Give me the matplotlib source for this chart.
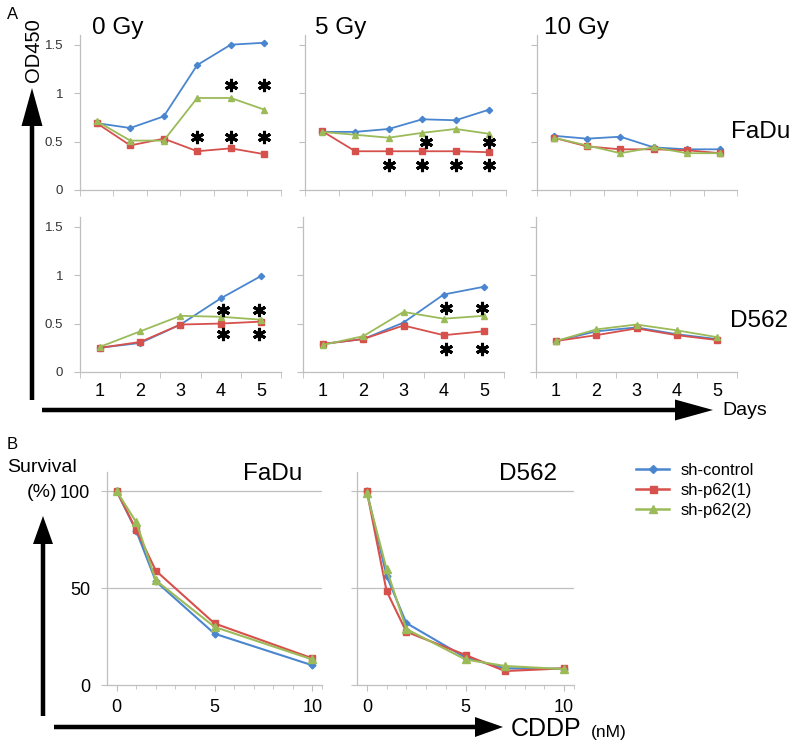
import matplotlib
matplotlib.use("Agg")
import matplotlib.pyplot as plt
from matplotlib.patches import FancyArrow
from matplotlib.lines import Line2D

plt.rcParams['font.family'] = ['Liberation Sans', 'DejaVu Sans']

W, H = 800, 748

# ---------------- data: panel A (OD450 growth curves) ----------------
series_names = ["sh-control", "sh-p62(1)", "sh-p62(2)"]
colors = ["#4A86CF", "#D6504C", "#9BBB59"]
markers = ["D", "s", "^"]
msizes = [3.2, 4.2, 4.6]

doses = ["0 Gy", "5 Gy", "10 Gy"]
cells = ["FaDu", "D562"]

days_top = [1, 2, 3, 4, 5, 6]
days_bottom = [1, 2, 3, 4, 5]
day_labels = ["1", "2", "3", "4", "5"]

# FaDu (top row), 6 time points
fadu_0gy_ctrl = [0.69, 0.64, 0.76, 1.29, 1.50, 1.52]
fadu_0gy_p62_1 = [0.69, 0.46, 0.53, 0.40, 0.43, 0.37]
fadu_0gy_p62_2 = [0.71, 0.51, 0.51, 0.95, 0.95, 0.83]
fadu_5gy_ctrl = [0.60, 0.60, 0.63, 0.73, 0.72, 0.83]
fadu_5gy_p62_1 = [0.61, 0.40, 0.40, 0.40, 0.40, 0.39]
fadu_5gy_p62_2 = [0.60, 0.57, 0.54, 0.59, 0.63, 0.58]
fadu_10gy_ctrl = [0.56, 0.53, 0.55, 0.44, 0.42, 0.42]
fadu_10gy_p62_1 = [0.54, 0.45, 0.42, 0.42, 0.41, 0.38]
fadu_10gy_p62_2 = [0.54, 0.46, 0.38, 0.44, 0.38, 0.38]

# D562 (bottom row), 5 time points
d562_0gy_ctrl = [0.25, 0.30, 0.49, 0.76, 0.99]
d562_0gy_p62_1 = [0.25, 0.31, 0.49, 0.50, 0.52]
d562_0gy_p62_2 = [0.26, 0.42, 0.58, 0.57, 0.54]
d562_5gy_ctrl = [0.29, 0.34, 0.51, 0.80, 0.88]
d562_5gy_p62_1 = [0.29, 0.34, 0.48, 0.38, 0.42]
d562_5gy_p62_2 = [0.28, 0.37, 0.62, 0.55, 0.58]
d562_10gy_ctrl = [0.32, 0.42, 0.46, 0.39, 0.34]
d562_10gy_p62_1 = [0.32, 0.38, 0.45, 0.38, 0.33]
d562_10gy_p62_2 = [0.32, 0.44, 0.49, 0.43, 0.36]

# significance stars: (time point positions, y level)
stars_fadu_0gy = [([5, 6], 1.08), ([4, 5, 6], 0.55)]
stars_fadu_5gy = [([4.1, 6], 0.50), ([3, 4, 5, 6], 0.26)]
stars_d562_0gy = [([4.05, 4.95], 0.635), ([4.05, 4.95], 0.39)]
stars_d562_5gy = [([4.05, 4.95], 0.66), ([4.05, 4.95], 0.24)]

od_ticks = [0, 0.5, 1, 1.5]
od_ticklabels = ["0", "0.5", "1", "1.5"]

# ---------------- data: panel B (CDDP survival) ----------------
fadu_cddp = [0, 1, 2, 5, 10]
fadu_surv_ctrl = [100, 79.5, 53.5, 26.5, 10.2]
fadu_surv_p62_1 = [100, 80.0, 59.0, 31.8, 13.8]
fadu_surv_p62_2 = [100, 84.0, 54.0, 30.0, 13.2]

d562_cddp = [0, 1, 2, 5, 7, 10]
d562_surv_ctrl = [100, 56.3, 32.0, 14.2, 8.6, 8.4]
d562_surv_p62_1 = [100, 48.5, 27.5, 15.5, 7.2, 8.6]
d562_surv_p62_2 = [99, 59.8, 28.9, 13.2, 9.8, 8.2]

surv_ticks = [0, 50, 100]
cddp_ticks = [0, 5, 10]

GRAY = "#BFBFBF"

fig = plt.figure(figsize=(W / 100, H / 100), dpi=100)


def px(l, t, r, b):
    return [l / W, 1 - b / H, (r - l) / W, (b - t) / H]


# overlay axis in pixel coordinates (arrows + free text), drawn on top
ov = fig.add_axes([0, 0, 1, 1], zorder=10)
ov.set_xlim(0, W)
ov.set_ylim(H, 0)
ov.axis("off")
ov.patch.set_alpha(0)


def style_A(ax, nx, show_ylabels, show_xlabels):
    ax.patch.set_alpha(0)
    for s in ("top", "right"):
        ax.spines[s].set_visible(False)
    for s in ("left", "bottom"):
        ax.spines[s].set_color(GRAY)
        ax.spines[s].set_linewidth(0.9)
    ax.set_ylim(0, 1.6)
    ax.set_xlim(0.5, nx + 0.5)
    ax.set_yticks(od_ticks)
    if show_ylabels:
        ax.set_yticklabels(od_ticklabels)
    else:
        ax.set_yticklabels([])
    ax.tick_params(axis="y", length=4, color=GRAY, labelsize=9.5,
                   labelcolor="#333333", pad=8)
    ax.set_xticks([i + 0.5 for i in range(0, nx + 1)], minor=True)
    ax.tick_params(axis="x", which="minor", length=4, color=GRAY)
    if show_xlabels:
        ax.set_xticks(days_bottom)
        ax.set_xticklabels(day_labels)
        ax.tick_params(axis="x", which="major", length=0, labelsize=13, pad=8)
    else:
        ax.set_xticks([])


def plot_series(ax, x, ys, lw=1.3, scale=1.0):
    for y, c, m, ms in zip(ys, colors, markers, msizes):
        ax.plot(x, y, color=c, marker=m, ms=ms * scale, lw=lw,
                markeredgecolor=c, clip_on=False)


def plot_stars(ax, stars):
    for xs, yv in stars:
        ax.plot(xs, [yv] * len(xs), ls="none", marker=(6, 2, 0), ms=9.5,
                mew=2.2, color="black", clip_on=False)


top_cols = [(80, 281), (305, 506), (537, 737)]
bot_cols = [(80, 281), (303, 504), (536, 737)]

top_data = [
    ([fadu_0gy_ctrl, fadu_0gy_p62_1, fadu_0gy_p62_2], stars_fadu_0gy),
    ([fadu_5gy_ctrl, fadu_5gy_p62_1, fadu_5gy_p62_2], stars_fadu_5gy),
    ([fadu_10gy_ctrl, fadu_10gy_p62_1, fadu_10gy_p62_2], []),
]
bot_data = [
    ([d562_0gy_ctrl, d562_0gy_p62_1, d562_0gy_p62_2], stars_d562_0gy),
    ([d562_5gy_ctrl, d562_5gy_p62_1, d562_5gy_p62_2], stars_d562_5gy),
    ([d562_10gy_ctrl, d562_10gy_p62_1, d562_10gy_p62_2], []),
]

for i, ((l, r), (ys, st)) in enumerate(zip(top_cols, top_data)):
    ax = fig.add_axes(px(l, 35, r, 190))
    style_A(ax, len(days_top), i == 0, False)
    plot_series(ax, days_top, ys)
    plot_stars(ax, st)

for i, ((l, r), (ys, st)) in enumerate(zip(bot_cols, bot_data)):
    ax = fig.add_axes(px(l, 217, r, 372))
    style_A(ax, len(days_bottom), i == 0, True)
    plot_series(ax, days_bottom, ys)
    plot_stars(ax, st)

# Panel A text
ov.text(7, 14, "A", fontsize=12, va="center", ha="left")
for (x0, lab) in zip([92, 315, 544], doses):
    ov.text(x0, 28, lab, fontsize=17.5, va="center", ha="left")
ov.text(731, 132, cells[0], fontsize=17.5, va="center", ha="left")
ov.text(730, 321, cells[1], fontsize=17.5, va="center", ha="left")
ov.text(722, 410, "Days", fontsize=14, va="center", ha="left")
ov.text(33, 50, "OD450", fontsize=14.5, rotation=90, va="center", ha="center")

# big arrows (panel A)
ov.add_patch(FancyArrow(32, 400, 0, -312, width=4.5, head_width=21,
                        head_length=38, length_includes_head=True,
                        color="black", lw=0))
ov.add_patch(FancyArrow(42, 410, 671, 0, width=4.5, head_width=21,
                        head_length=38, length_includes_head=True,
                        color="black", lw=0))


# ---------------- panel B ----------------
def style_B(ax, show_ylabels):
    ax.patch.set_alpha(0)
    for s in ("top", "right"):
        ax.spines[s].set_visible(False)
    for s in ("left", "bottom"):
        ax.spines[s].set_color(GRAY)
        ax.spines[s].set_linewidth(0.9)
    ax.set_xlim(-0.5, 10.5)
    ax.set_ylim(0, 110)
    ax.set_yticks(surv_ticks)
    ax.set_yticklabels([str(t) for t in surv_ticks] if show_ylabels else [])
    ax.tick_params(axis="y", length=4, color=GRAY, labelsize=13, pad=8)
    ax.set_xticks(cddp_ticks)
    ax.set_xticklabels([str(t) for t in cddp_ticks])
    ax.set_xticks(list(range(0, 11)) + [10.5], minor=True)
    ax.tick_params(axis="x", which="major", length=4, color=GRAY,
                   labelsize=13, pad=6)
    ax.tick_params(axis="x", which="minor", length=3, color=GRAY)
    for g in (50, 100):
        ax.axhline(g, color=GRAY, lw=0.9, zorder=0)


axB1 = fig.add_axes(px(107, 472, 322, 685))
style_B(axB1, True)
plot_series(axB1, fadu_cddp, [fadu_surv_ctrl, fadu_surv_p62_1, fadu_surv_p62_2],
            lw=1.5, scale=1.1)

axB2 = fig.add_axes(px(357, 472, 574, 685))
style_B(axB2, False)
plot_series(axB2, d562_cddp, [d562_surv_ctrl, d562_surv_p62_1, d562_surv_p62_2],
            lw=1.5, scale=1.1)

ov.text(243, 474, cells[0], fontsize=17.5, va="center", ha="left")
ov.text(557, 474, cells[1], fontsize=17.5, va="center", ha="right")
ov.text(7, 444, "B", fontsize=12, va="center", ha="left")
ov.text(7, 467, "Survival", fontsize=14, va="center", ha="left")
ov.text(27, 492, "(%)", fontsize=14, va="center", ha="left")
ov.text(511, 729, "CDDP", fontsize=18, va="center", ha="left")
ov.text(591, 733, "(nM)", fontsize=12.5, va="center", ha="left")

ov.add_patch(FancyArrow(43, 716, 0, -200, width=4.5, head_width=20,
                        head_length=28, length_includes_head=True,
                        color="black", lw=0))
ov.add_patch(FancyArrow(54, 727, 449, 0, width=4.5, head_width=20,
                        head_length=28, length_includes_head=True,
                        color="black", lw=0))

handles = [Line2D([], [], color=c, marker=m, ms=ms * 1.2, lw=1.8,
                  markeredgecolor=c)
           for c, m, ms in zip(colors, markers, msizes)]
fig.legend(handles, series_names, loc="upper left",
           bbox_to_anchor=(636 / W, 1 - 463 / H), frameon=False,
           fontsize=12, handlelength=2.0, handletextpad=0.7,
           labelspacing=0.3, borderpad=0, borderaxespad=0)

fig.savefig("out.png", dpi=100)
